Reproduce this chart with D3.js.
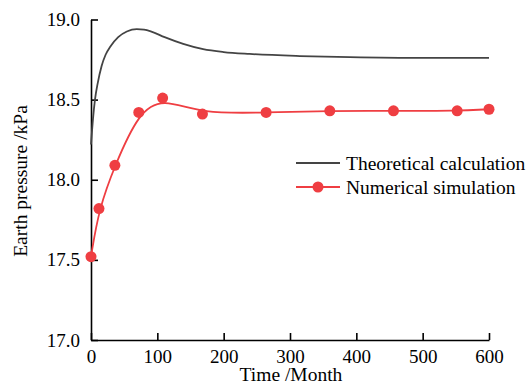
<!DOCTYPE html>
<html>
<head>
<meta charset="utf-8">
<script src="https://cdn.jsdelivr.net/npm/d3@7"></script>
<style>
  body { margin: 0; background: #fff; }
  text { font-family: "Liberation Serif", "Times New Roman", serif; fill: #000; }
</style>
</head>
<body>
<svg id="chart" width="528" height="385"></svg>
<script>
// Data
const theoryTime  = [0, 3, 6, 10, 16, 22, 29, 41, 54, 69, 80, 91, 111, 139, 169, 200, 239, 315, 390, 500, 600]
const theoryValue = [18.22, 18.38, 18.50, 18.60, 18.71, 18.78, 18.83, 18.89, 18.925, 18.94, 18.937, 18.925, 18.89, 18.848, 18.815, 18.797, 18.785, 18.772, 18.765, 18.76, 18.76]

const simTime  = [0, 12, 36, 72, 108, 168, 264, 360, 456, 552, 600]
const simValue = [17.52, 17.82, 18.09, 18.42, 18.51, 18.41, 18.42, 18.43, 18.43, 18.43, 18.44]

const xTicks = [0, 100, 200, 300, 400, 500, 600]
const yTicks = [17.0, 17.5, 18.0, 18.5, 19.0]

const seriesNames = ["Theoretical calculation", "Numerical simulation"]

// Config
const theoryColor = "#444444"
const simColor = "#ef3e42"
const tickLen = 7
const tickFont = 19
const titleFont = 19.5

const svg = d3.select("#chart")

const x = d3.scaleLinear().domain([0, 600]).range([91, 489])
const y = d3.scaleLinear().domain([17, 19]).range([340, 19.5])

// Axes (ticks point inward)
svg.append("g")
    .attr("transform", `translate(0,${y(17)})`)
    .call(d3.axisBottom(x).tickValues(xTicks).tickSizeInner(-tickLen).tickSizeOuter(0).tickPadding(10))

svg.append("g")
    .attr("transform", `translate(${x(0)},0)`)
    .call(d3.axisLeft(y).tickValues(yTicks).tickFormat(d3.format(".1f")).tickSizeInner(-tickLen).tickSizeOuter(0).tickPadding(11))

svg.selectAll(".domain").attr("stroke", "#000").attr("stroke-width", 1.6)
svg.selectAll(".tick line").attr("stroke", "#000").attr("stroke-width", 1.6)
svg.selectAll(".tick text")
    .attr("font-size", tickFont)
    .attr("fill", "#000")

// Axis titles
svg.append("text")
    .attr("x", 291)
    .attr("y", 381)
    .attr("text-anchor", "middle")
    .attr("font-size", titleFont)
    .text("Time /Month")

svg.append("text")
    .attr("transform", `translate(27,181) rotate(-90)`)
    .attr("text-anchor", "middle")
    .attr("font-size", titleFont)
    .text("Earth pressure /kPa")

// Theoretical curve
const theoryData = theoryTime.map((t, i) => [t, theoryValue[i]])
svg.append("path")
    .datum(theoryData)
    .attr("fill", "none")
    .attr("stroke", theoryColor)
    .attr("stroke-width", 1.8)
    .attr("d", d3.line().x(d => x(d[0])).y(d => y(d[1])).curve(d3.curveMonotoneX))

// Numerical simulation: smoothed fit + markers
const simData = simTime.map((t, i) => [t, simValue[i]])
svg.append("path")
    .datum(simData)
    .attr("fill", "none")
    .attr("stroke", simColor)
    .attr("stroke-width", 1.8)
    .attr("d", d3.line().x(d => x(d[0])).y(d => y(d[1])).curve(d3.curveBasis))

svg.append("g")
    .selectAll("circle")
    .data(simData)
    .enter()
    .append("circle")
    .attr("cx", d => x(d[0]))
    .attr("cy", d => y(d[1]))
    .attr("r", 5.5)
    .attr("fill", simColor)

// Legend
const legend = svg.append("g").attr("transform", "translate(296,163)")
seriesNames.forEach((name, i) => {
    const row = legend.append("g").attr("transform", `translate(0,${i * 24})`)
    const color = i == 0 ? theoryColor : simColor
    row.append("line")
        .attr("x1", 0).attr("x2", 44)
        .attr("stroke", color)
        .attr("stroke-width", 1.8)
    if (i == 1) {
        row.append("circle").attr("cx", 22).attr("r", 5.5).attr("fill", color)
    }
    row.append("text")
        .attr("x", 50)
        .attr("y", 6.5)
        .attr("font-size", titleFont)
        .text(name)
})
</script>
</body>
</html>
